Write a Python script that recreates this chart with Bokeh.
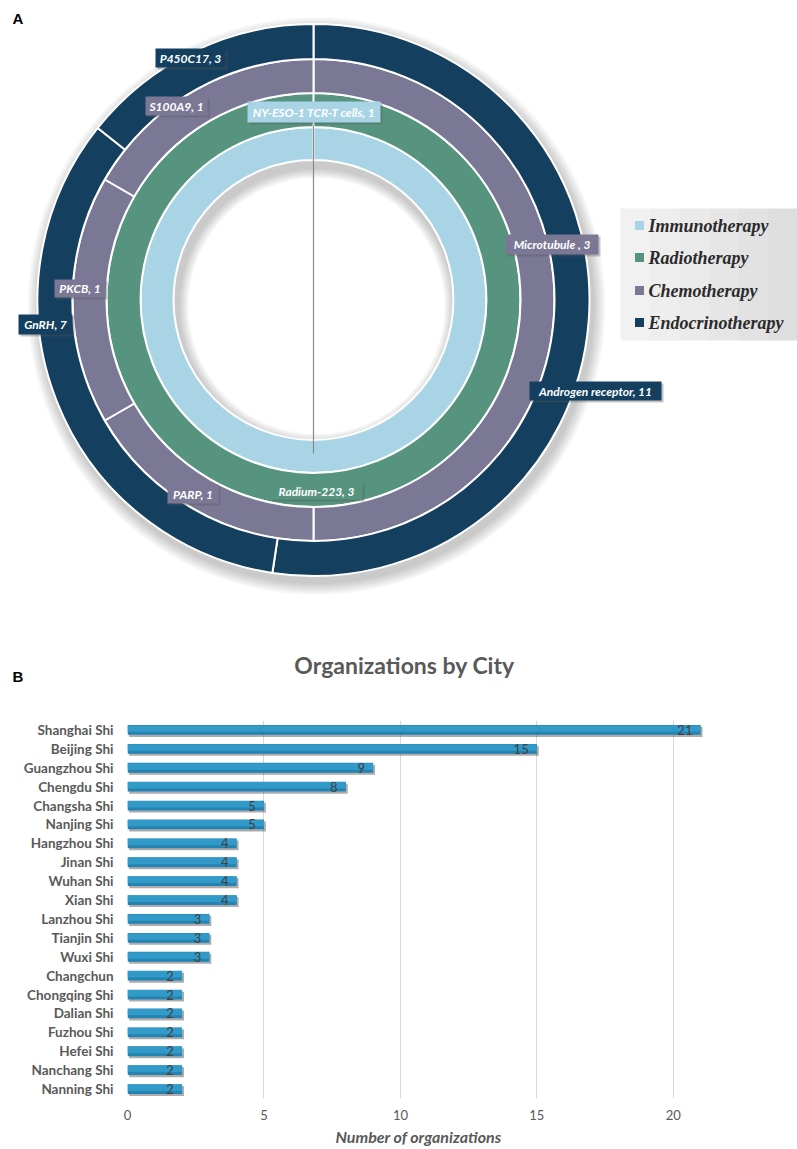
import numpy as np
from bokeh.plotting import figure
from bokeh.models import Range1d, FixedTicker, ColumnDataSource, Title
from bokeh.transform import dodge
from bokeh.layouts import column, row
from bokeh.embed import file_html
from bokeh.resources import INLINE
from bokeh.core.properties import value

# ---------------- Panel A data ----------------
therapy_classes = ["Immunotherapy", "Radiotherapy", "Chemotherapy", "Endocrinotherapy"]
immuno_targets = ["NY-ESO-1 TCR-T cells"]
immuno_counts = [1]
radio_targets = ["Radium-223"]
radio_counts = [3]
chemo_targets = ["Microtubule ", "PARP", "PKCB", "S100A9"]
chemo_counts = [3, 1, 1, 1]
endo_targets = ["Androgen receptor", "GnRH", "P450C17"]
endo_counts = [11, 7, 3]

# ---------------- Panel B data ----------------
cities = ["Shanghai Shi", "Beijing Shi", "Guangzhou Shi", "Chengdu Shi", "Changsha Shi",
          "Nanjing Shi", "Hangzhou Shi", "Jinan Shi", "Wuhan Shi", "Xian Shi",
          "Lanzhou Shi", "Tianjin Shi", "Wuxi Shi", "Changchun", "Chongqing Shi",
          "Dalian Shi", "Fuzhou Shi", "Hefei Shi", "Nanchang Shi", "Nanning Shi"]
org_counts = [21, 15, 9, 8, 5, 5, 4, 4, 4, 4, 3, 3, 3, 2, 2, 2, 2, 2, 2, 2]
x_ticks = [0, 5, 10, 15, 20]

# ---------------- styles / layout ----------------
ring_colors = ["#a9d4e5", "#57947f", "#7b7896", "#143f5f"]
ring_radii = [140, 173, 207, 241, 276]
CX, CY = 313, 299.5   # donut centre in picture pixels
PAGE_W = 797
A_BOTTOM = 692        # picture row where panel A's figure ends


def P(px, py):
    return px - CX, CY - py


# label boxes (left, top, right, bottom) in picture pixels
label_boxes = {
    "NY-ESO-1 TCR-T cells": (247, 101, 380, 122),
    "Radium-223": (270, 482, 362, 499),
    "Microtubule ": (505, 234, 598, 254),
    "PARP": (167, 484, 218, 503),
    "PKCB": (54, 279, 105, 297),
    "S100A9": (145, 96, 207, 115),
    "Androgen receptor": (529, 381, 661, 400),
    "GnRH": (18, 314, 72, 334),
    "P450C17": (155, 48, 225, 67),
}

pA = figure(frame_width=PAGE_W, frame_height=A_BOTTOM, output_backend="svg",
            toolbar_location=None, title=None, x_axis_location=None, y_axis_location=None,
            x_range=Range1d(0 - CX, PAGE_W - CX), y_range=Range1d(CY - A_BOTTOM, CY),
            min_border=0)
pA.grid.visible = False
pA.outline_line_color = None
pA.background_fill_color = "white"

# soft drop shadow
for k in range(7):
    pA.annulus(x=3, y=-6, inner_radius=ring_radii[0] - 3 - k * 1.5,
               outer_radius=ring_radii[-1] + 2 + k * 1.8,
               fill_color="black", fill_alpha=0.03, line_color=None)

rings = [(immuno_targets, immuno_counts), (radio_targets, radio_counts),
         (chemo_targets, chemo_counts), (endo_targets, endo_counts)]

for i, (targets, counts) in enumerate(rings):
    total = float(sum(counts))
    cum = np.concatenate([[0], np.cumsum(counts)]) / total * 360.0
    src = ColumnDataSource(dict(start=90 - cum[1:], end=90 - cum[:-1]))
    pA.annular_wedge(x=0, y=0, inner_radius=ring_radii[i], outer_radius=ring_radii[i + 1],
                     start_angle="start", end_angle="end", start_angle_units="deg",
                     end_angle_units="deg", source=src,
                     fill_color=ring_colors[i], line_color="white", line_width=2)

# leader line
pA.segment(x0=0, y0=CY - 125, x1=0, y1=CY - 453, line_color="#8a8a8a", line_width=1.2)

# data labels
for i, (targets, counts) in enumerate(rings):
    for t, c in zip(targets, counts):
        l, tp, r, b = label_boxes[t]
        x0, y0 = P(l, tp)
        x1, y1 = P(r, b)
        pA.quad(left=x0 + 2, right=x1 + 2, top=y0 - 2, bottom=y1 - 2,
                fill_color="#555555", fill_alpha=0.35, line_color=None)
        pA.quad(left=x0, right=x1, top=y0, bottom=y1,
                fill_color=ring_colors[i], line_color=None)
        pA.text(x=[(x0 + x1) / 2], y=[(y0 + y1) / 2], text=[f"{t}, {c}"],
                text_align="center", text_baseline="middle", text_color="white",
                text_font=value("Lato"), text_font_style="bold italic",
                text_font_size="12px")

# legend
lx0, ly0 = P(620, 208)
lx1, ly1 = P(PAGE_W, 340)
greys = ["#f1f1f1", "#eeeeee", "#eaeaea", "#e6e6e6", "#e2e2e2", "#dedede"]
wstep = (lx1 - lx0) / len(greys)
for k, g in enumerate(greys):
    pA.quad(left=lx0 + k * wstep, right=lx0 + (k + 1) * wstep + 0.5, top=ly0, bottom=ly1,
            fill_color=g, line_color=None)
leg_y = [225, 257, 290, 322]
for k, name in enumerate(therapy_classes):
    mx, my = P(639, leg_y[k])
    pA.scatter(x=[mx], y=[my], marker="square", size=9, fill_color=ring_colors[k],
               line_color=None)
    tx, ty = P(648, leg_y[k])
    pA.text(x=[tx], y=[ty], text=[name], text_align="left", text_baseline="middle",
            text_font=value("Liberation Serif"), text_font_style="bold italic",
            text_font_size="18px", text_color="#2b2b2b")

ax, ay = P(12, 9)
pA.text(x=[ax], y=[ay], text=["A"], text_align="left", text_baseline="top",
        text_font=value("Liberation Sans"), text_font_style="bold",
        text_font_size="15px", text_color="black")
bx, by = P(12, 676)
pA.text(x=[bx], y=[by], text=["B"], text_align="left", text_baseline="middle",
        text_font=value("Liberation Sans"), text_font_style="bold",
        text_font_size="15px", text_color="black")
tx, ty = P(404, 664)
pA.text(x=[tx], y=[ty], text=["Organizations by City"], text_align="center",
        text_baseline="middle", text_font=value("Lato"), text_font_style="bold",
        text_font_size="23px", text_color="#595959")

# ---------------- Panel B ----------------
n = len(cities)
pB = figure(frame_width=655, frame_height=378, output_backend="svg", toolbar_location=None,
            title=None, x_range=Range1d(0, 24), y_range=Range1d(n - 0.5, -0.5),
            min_border_left=127, min_border_right=PAGE_W - 127 - 655,
            min_border_top=720 - A_BOTTOM, min_border_bottom=0)
pB.outline_line_color = None
pB.ygrid.visible = False
pB.xgrid.ticker = FixedTicker(ticks=x_ticks)
pB.xgrid.grid_line_color = "#d9d9d9"
pB.xgrid.grid_line_width = 1

srcB = ColumnDataSource(dict(y=list(range(n)), x=org_counts,
                             lbl=[str(v) for v in org_counts]))
pB.hbar(y=dodge("y", 0.11), left=0.06, right=dodge("x", 0.07), height=0.52, source=srcB,
        fill_color="#4a4a4a", fill_alpha=0.45, line_color=None)
pB.hbar(y="y", left=0, right="x", height=0.52, source=srcB,
        fill_color="#2383b2", line_color=None)
pB.hbar(y=dodge("y", -0.07), left=0, right="x", height=0.34, source=srcB,
        fill_color="#329ac8", line_color=None)
pB.text(x=dodge("x", -0.3), y="y", text="lbl", source=srcB, text_align="right",
        text_baseline="middle", text_font=value("Lato"), text_font_size="13px",
        text_color="#404040")

pB.xaxis.ticker = FixedTicker(ticks=x_ticks)
pB.xaxis.axis_line_color = None
pB.xaxis.major_tick_line_color = None
pB.xaxis.minor_tick_line_color = None
pB.xaxis.major_tick_out = 0
pB.xaxis.major_tick_in = 0
pB.xaxis.major_label_text_font = "Lato"
pB.xaxis.major_label_text_font_size = "13px"
pB.xaxis.major_label_text_color = "#595959"
pB.xaxis.major_label_standoff = 11

pB.yaxis.ticker = FixedTicker(ticks=list(range(n)))
pB.yaxis.major_label_overrides = {i: c for i, c in enumerate(cities)}
pB.yaxis.axis_line_color = None
pB.yaxis.major_tick_line_color = None
pB.yaxis.minor_tick_line_color = None
pB.yaxis.major_tick_out = 0
pB.yaxis.major_tick_in = 0
pB.yaxis.major_label_text_font = "Lato"
pB.yaxis.major_label_text_font_style = "bold"
pB.yaxis.major_label_text_font_size = "13.5px"
pB.yaxis.major_label_text_color = "#595959"
pB.yaxis.major_label_standoff = 14

pB.add_layout(Title(text="Number of organizations", align="left", offset=208,
                    standoff=4, text_font="Lato", text_font_style="bold italic",
                    text_font_size="16px", text_color="#595959"), "below")

layout = column(row(pA), row(pB), spacing=0)
open("out.html", "w").write(file_html(layout, INLINE))
